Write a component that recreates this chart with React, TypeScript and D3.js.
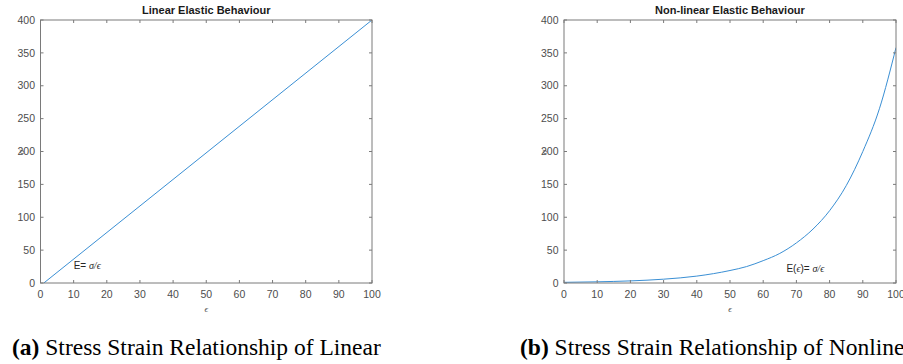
import { useEffect, useRef } from 'react';
import * as d3 from 'd3';

// axis ticks (shared by both panels)
const xTicks = [0, 10, 20, 30, 40, 50, 60, 70, 80, 90, 100];
const yTicks = [0, 50, 100, 150, 200, 250, 300, 350, 400];

// panel (a) - linear
const linearStrain = [1, 100];
const linearStress = [0, 400];

// panel (b) - non-linear
const nonlinearStrain = [0, 10, 20, 30, 40, 50, 55, 60, 65, 70, 75, 80, 85, 90, 95, 100];
const nonlinearStress = [1, 1.8, 3.2, 5.8, 10.5, 19, 25, 34, 45, 61, 82, 110, 148, 200, 265, 358];

const titles = ['Linear Elastic Behaviour', 'Non-linear Elastic Behaviour'];
const annotations = [
  { x: 10, y: 27, prefix: 'E= ', eps: false },
  { x: 67, y: 22, prefix: 'E(', eps: true },
];
const captions = [
  { tag: '(a)', text: ' Stress Strain Relationship of Linear' },
  { tag: '(b)', text: ' Stress Strain Relationship of Nonlinear' },
];

const W = 903;
const H = 364;

export default function App() {
  const svgRef = useRef<SVGSVGElement>(null);

  useEffect(() => {
    if (!svgRef.current) return;
    const svg = d3.select(svgRef.current);
    svg.selectAll('*').remove();

    const panels = [
      { x0: 40.5, x1: 372, strain: linearStrain, stress: linearStress, capX: 12 },
      { x0: 564, x1: 896, strain: nonlinearStrain, stress: nonlinearStress, capX: 520 },
    ];

    panels.forEach((p, i) => {
      const xScale = d3.scaleLinear().domain([0, 100]).range([p.x0, p.x1]);
      const yScale = d3.scaleLinear().domain([0, 400]).range([283, 20]);
      const g = svg.append('g');
      const axisColor = '#7a7a7a';
      const labelColor = '#4d4d4d';
      const tick = 3;

      // clip for the data line
      const clipId = `clip-${i}`;
      svg
        .append('clipPath')
        .attr('id', clipId)
        .append('rect')
        .attr('x', p.x0)
        .attr('y', 20)
        .attr('width', p.x1 - p.x0)
        .attr('height', 263);

      // data line
      const pts = p.strain.map((s, k) => [s, p.stress[k]] as [number, number]);
      const line = d3
        .line<[number, number]>()
        .x((d) => xScale(d[0]))
        .y((d) => yScale(d[1]))
        .curve(d3.curveMonotoneX);
      g.append('path')
        .attr('d', line(pts))
        .attr('clip-path', `url(#${clipId})`)
        .style('fill', 'none')
        .style('stroke', '#3a8fd4')
        .style('stroke-width', 1);

      // box
      g.append('rect')
        .attr('x', p.x0)
        .attr('y', 20)
        .attr('width', p.x1 - p.x0)
        .attr('height', 263)
        .style('fill', 'none')
        .style('stroke', axisColor)
        .style('stroke-width', 1);

      // ticks, inward on all four sides
      xTicks.forEach((t) => {
        const x = xScale(t);
        g.append('line').attr('x1', x).attr('x2', x).attr('y1', 283).attr('y2', 283 - tick)
          .style('stroke', axisColor);
        g.append('line').attr('x1', x).attr('x2', x).attr('y1', 20).attr('y2', 20 + tick)
          .style('stroke', axisColor);
        g.append('text')
          .attr('x', x)
          .attr('y', 298)
          .style('text-anchor', 'middle')
          .style('font-family', 'Liberation Sans, Arial, sans-serif')
          .style('font-size', '10.5px')
          .style('fill', labelColor)
          .text(t);
      });
      yTicks.forEach((t) => {
        const y = yScale(t);
        g.append('line').attr('x1', p.x0).attr('x2', p.x0 + tick).attr('y1', y).attr('y2', y)
          .style('stroke', axisColor);
        g.append('line').attr('x1', p.x1).attr('x2', p.x1 - tick).attr('y1', y).attr('y2', y)
          .style('stroke', axisColor);
        g.append('text')
          .attr('x', p.x0 - 5.5)
          .attr('y', y)
          .attr('dy', '0.35em')
          .style('text-anchor', 'end')
          .style('font-family', 'Liberation Sans, Arial, sans-serif')
          .style('font-size', '10.5px')
          .style('fill', labelColor)
          .text(t);
      });

      // title
      g.append('text')
        .attr('x', (p.x0 + p.x1) / 2)
        .attr('y', 14)
        .style('text-anchor', 'middle')
        .style('font-family', 'Liberation Sans, Arial, sans-serif')
        .style('font-size', '11px')
        .style('font-weight', 'bold')
        .style('fill', '#1a1a1a')
        .text(titles[i]);

      // axis labels
      g.append('text')
        .attr('x', (p.x0 + p.x1) / 2)
        .attr('y', 312)
        .style('text-anchor', 'middle')
        .style('font-family', 'Liberation Serif, serif')
        .style('font-style', 'italic')
        .style('font-size', '9px')
        .style('fill', labelColor)
        .text('ϵ');
      g.append('text')
        .attr('transform', `translate(${p.x0 - 17}, 152) rotate(-90)`)
        .style('text-anchor', 'middle')
        .style('font-family', 'Liberation Serif, serif')
        .style('font-style', 'italic')
        .style('font-size', '9px')
        .style('fill', labelColor)
        .text('σ');

      // annotation
      const a = annotations[i];
      const ann = g
        .append('text')
        .attr('x', xScale(a.x))
        .attr('y', yScale(a.y))
        .attr('dy', '0.35em')
        .style('font-family', 'Liberation Sans, Arial, sans-serif')
        .style('font-size', '10px')
        .style('fill', '#262626');
      ann.append('tspan').text(a.prefix);
      if (a.eps) {
        ann.append('tspan').style('font-family', 'Liberation Serif, serif').style('font-style', 'italic').text('ϵ');
        ann.append('tspan').text(')= ');
      }
      ann
        .append('tspan')
        .style('font-family', 'Liberation Serif, serif')
        .style('font-style', 'italic')
        .text('σ/ϵ');

      // caption
      const cap = g
        .append('text')
        .attr('x', p.capX)
        .attr('y', 355)
        .style('font-family', 'Liberation Serif, Times New Roman, serif')
        .style('font-size', '23.5px')
        .style('fill', '#000');
      const c = captions[i];
      cap.append('tspan').style('font-weight', 'bold').text(c.tag);
      cap.append('tspan').text(c.text);
    });
  }, []);

  return (
    <svg
      ref={svgRef}
      width={W}
      height={H}
      style={{ position: 'absolute', left: 0, top: 0, background: '#fff' }}
    />
  );
}
